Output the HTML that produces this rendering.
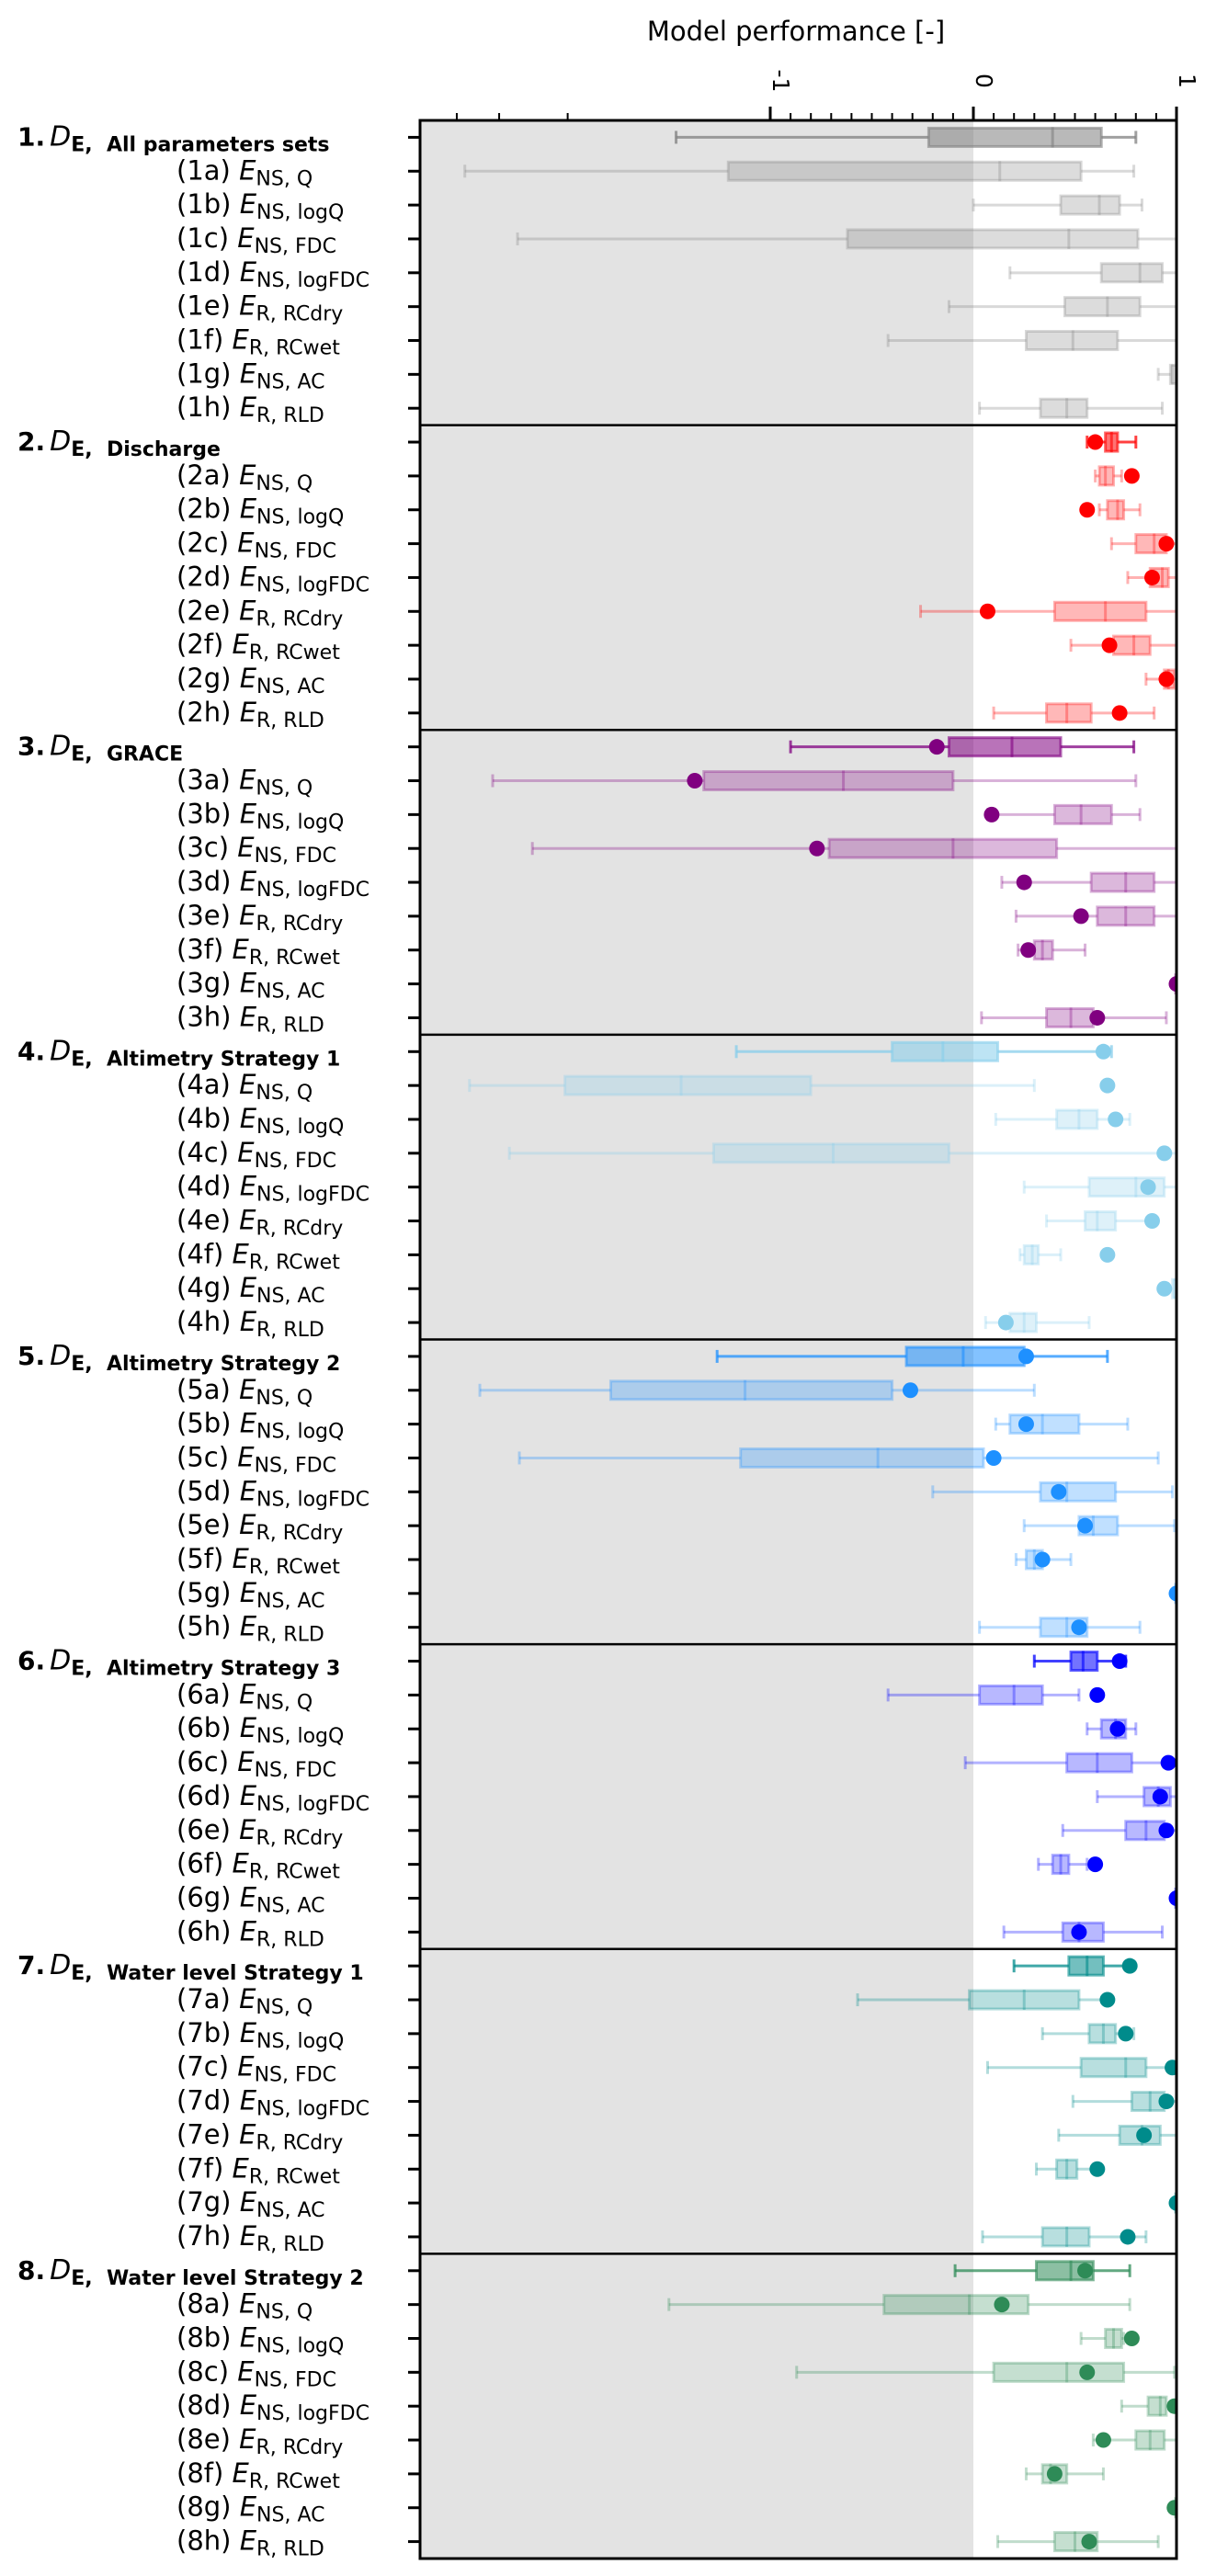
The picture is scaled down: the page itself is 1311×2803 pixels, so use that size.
<!DOCTYPE html>
<html><head><meta charset="utf-8">
<style>
html,body{margin:0;padding:0;background:#fff;}
svg{display:block;font-family:"DejaVu Sans","Liberation Sans",sans-serif;}
</style></head>
<body>
<svg id="chart" width="1311" height="2803" viewBox="0 0 1311 2803" xmlns="http://www.w3.org/2000/svg">
<defs><clipPath id="plotclip"><rect x="457" y="131" width="823" height="2653"/></clipPath></defs>
<text x="866" y="44" font-size="29" text-anchor="middle">Model performance [-]</text>
</svg>
<script>
const groupNames = ['All parameters sets','Discharge','GRACE','Altimetry Strategy 1','Altimetry Strategy 2','Altimetry Strategy 3','Water level Strategy 1','Water level Strategy 2'];
const subLetters = ['a','b','c','d','e','f','g','h'];
const subMetrics = [['E','NS, Q'],['E','NS, logQ'],['E','NS, FDC'],['E','NS, logFDC'],['E','R, RCdry'],['E','R, RCwet'],['E','NS, AC'],['E','R, RLD']];
const groupColors = ['#808080','#ff0000','#800080','#87ceeb','#1e90ff','#0000ff','#008b8b','#2e8b57'];
const majorTicks = [-1,0,1];
const majorTickLabels = ['-1','0','1'];
const farMinorTicks = [-2,-3,-4];
const lows = [
-1.26,-3.78,0.00,-2.67,0.18,-0.12,-0.42,0.91,0.03,
0.56,0.60,0.62,0.68,0.76,-0.26,0.48,0.85,0.10,
-0.90,-3.13,0.07,-2.44,0.14,0.21,0.22,0.99,0.04,
-1.07,-3.66,0.11,-2.81,0.25,0.36,0.23,0.95,0.06,
-1.12,-3.41,0.11,-2.64,-0.20,0.25,0.21,0.99,0.03,
0.30,-0.42,0.56,-0.04,0.61,0.44,0.32,0.99,0.15,
0.20,-0.57,0.34,0.07,0.49,0.42,0.31,0.99,0.045,
-0.09,-1.29,0.53,-0.87,0.73,0.59,0.26,0.99,0.12];
const q1s = [
-0.22,-1.09,0.43,-0.62,0.63,0.45,0.26,0.97,0.33,
0.65,0.62,0.66,0.80,0.87,0.40,0.69,0.94,0.36,
-0.12,-1.16,0.40,-0.71,0.58,0.61,0.30,0.995,0.36,
-0.40,-2.03,0.41,-1.13,0.57,0.55,0.25,0.98,0.18,
-0.33,-1.62,0.18,-1.06,0.33,0.52,0.26,0.995,0.33,
0.48,0.03,0.63,0.46,0.84,0.75,0.39,0.995,0.44,
0.47,-0.02,0.57,0.53,0.78,0.72,0.41,0.995,0.34,
0.31,-0.44,0.65,0.10,0.86,0.80,0.34,0.995,0.40];
const medians = [
0.39,0.13,0.62,0.47,0.82,0.66,0.49,0.98,0.46,
0.68,0.65,0.71,0.89,0.93,0.65,0.79,0.96,0.46,
0.19,-0.64,0.53,-0.10,0.75,0.75,0.34,0.998,0.48,
-0.15,-1.24,0.52,-0.69,0.80,0.61,0.29,0.99,0.25,
-0.05,-1.05,0.34,-0.47,0.46,0.59,0.30,0.998,0.46,
0.54,0.20,0.70,0.61,0.91,0.85,0.43,0.998,0.52,
0.56,0.25,0.64,0.75,0.87,0.83,0.46,0.998,0.46,
0.48,-0.02,0.69,0.46,0.92,0.87,0.38,0.998,0.50];
const q3s = [
0.63,0.53,0.72,0.81,0.93,0.82,0.71,1.00,0.56,
0.71,0.69,0.74,0.95,0.96,0.85,0.87,0.99,0.58,
0.43,-0.10,0.68,0.41,0.89,0.89,0.39,1.00,0.59,
0.12,-0.80,0.61,-0.12,0.94,0.70,0.32,1.00,0.31,
0.25,-0.40,0.52,0.05,0.70,0.71,0.34,1.00,0.56,
0.61,0.34,0.75,0.78,0.97,0.94,0.47,1.00,0.64,
0.64,0.52,0.70,0.85,0.94,0.92,0.51,1.00,0.57,
0.59,0.27,0.73,0.74,0.95,0.94,0.46,1.00,0.61];
const highs = [
0.80,0.79,0.83,1.00,1.00,1.00,1.00,1.00,0.93,
0.80,0.73,0.82,1.00,1.00,1.00,1.00,1.00,0.89,
0.79,0.80,0.82,1.00,1.00,1.00,0.55,1.00,0.95,
0.68,0.30,0.77,1.00,1.00,0.89,0.43,1.00,0.57,
0.66,0.30,0.76,0.91,0.98,0.99,0.48,1.00,0.82,
0.75,0.52,0.80,1.00,1.00,1.00,0.56,1.00,0.93,
0.77,0.67,0.79,1.00,1.00,1.00,0.61,1.00,0.85,
0.77,0.77,0.74,0.99,1.00,1.00,0.64,1.00,0.91];
const dots = [
null,null,null,null,null,null,null,null,null,
0.60,0.78,0.56,0.95,0.88,0.07,0.67,0.95,0.72,
-0.18,-1.19,0.09,-0.77,0.25,0.53,0.27,1.00,0.61,
0.64,0.66,0.70,0.94,0.86,0.88,0.66,0.94,0.16,
0.26,-0.31,0.26,0.10,0.42,0.55,0.34,1.00,0.52,
0.72,0.61,0.71,0.96,0.92,0.95,0.60,1.00,0.52,
0.77,0.66,0.75,0.98,0.95,0.84,0.61,1.00,0.76,
0.55,0.14,0.78,0.56,0.99,0.64,0.40,0.99,0.57];

const NS = 'http://www.w3.org/2000/svg';
const svg = document.getElementById('chart');
const L = 457, R = 1280, T = 131, B = 2784;
const ROWS = 72, RH = (B - T) / ROWS;
function xs(E){ return E >= -1 ? 1059 + 221*E : 838 - 123*Math.log(1 + 5*(-1 - E)); }
function ys(i){ return T + (i + 0.5)*RH; }
function mk(tag, attrs, parent){
  const e = document.createElementNS(NS, tag);
  for (const k in attrs) e.setAttribute(k, attrs[k]);
  (parent || svg).appendChild(e);
  return e;
}

const bg = mk('rect', {x:L, y:T, width:xs(0)-L, height:B-T, fill:'#e3e3e3'});



const plot = mk('g', {'clip-path':'url(#plotclip)'});



for (let i = 0; i < ROWS; i++){
  const g = Math.floor(i/9), s = i % 9, head = s === 0;
  const c = groupColors[g], y = ys(i);
  const lo = lows[i], hi = highs[i];
  const grp = mk('g', {}, plot);
  
  
  const lop = head ? 0.75 : 0.3, fop = head ? 0.55 : 0.28, sop = head ? 0.6 : 0.3;
  mk('line', {x1:xs(lo), x2:xs(q1s[i]), y1:y, y2:y, stroke:c, 'stroke-width':3, 'stroke-opacity':lop}, grp);
  mk('line', {x1:xs(q3s[i]), x2:xs(hi), y1:y, y2:y, stroke:c, 'stroke-width':3, 'stroke-opacity':lop}, grp);
  mk('line', {x1:xs(lo), x2:xs(lo), y1:y-7, y2:y+7, stroke:c, 'stroke-width':3, 'stroke-opacity':lop}, grp);
  mk('line', {x1:xs(hi), x2:xs(hi), y1:y-7, y2:y+7, stroke:c, 'stroke-width':3, 'stroke-opacity':lop}, grp);
  mk('rect', {x:xs(q1s[i]), y:y-10, width:Math.max(1, xs(q3s[i])-xs(q1s[i])), height:20, fill:c, 'fill-opacity':fop, stroke:c, 'stroke-width':3, 'stroke-opacity':sop}, grp);
  mk('line', {x1:xs(medians[i]), x2:xs(medians[i]), y1:y-11, y2:y+11, stroke:c, 'stroke-width':3, 'stroke-opacity':sop}, grp);
  if (dots[i] !== null){
    const d = mk('circle', {cx:xs(dots[i]), cy:y, r:8.5, fill:c}, grp);
    
    
  }
}

for (let g = 1; g < 8; g++){
  const yy = T + g*9*RH;
  const sep = mk('line', {x1:L, x2:R, y1:yy, y2:yy, stroke:'#000', 'stroke-width':2.5});
  
  
}
const fr = mk('rect', {x:L, y:T, width:R-L, height:B-T, fill:'none', stroke:'#000', 'stroke-width':3});



const axis = mk('g', {});


for (let k = -10; k <= 10; k++){
  if (k % 10 === 0) continue;
  const x = xs(k/10);
  mk('line', {x1:x, x2:x, y1:T, y2:T-8, stroke:'#000', 'stroke-width':2}, axis);
}
farMinorTicks.forEach(v => {
  const x = xs(v);
  mk('line', {x1:x, x2:x, y1:T, y2:T-8, stroke:'#000', 'stroke-width':2}, axis);
});
majorTicks.forEach((v, j) => {
  const x = xs(v);
  mk('line', {x1:x, x2:x, y1:T, y2:T-15, stroke:'#000', 'stroke-width':3}, axis);
  const t = mk('text', {x:0, y:0, 'font-size':25, 'text-anchor':'middle', transform:'translate(' + (x+3) + ',88) rotate(90)'}, axis);
  t.textContent = majorTickLabels[j];
  
  
});

for (let i = 0; i < ROWS; i++){
  const g = Math.floor(i/9), s = i % 9, y = ys(i);
  const tk = mk('line', {x1:L-13, x2:L, y1:y, y2:y, stroke:'#000', 'stroke-width':3});
  
  
  if (s === 0){
    const t = mk('text', {x:19, y:y+9, 'font-size':28});
    
    
    const a = mk('tspan', {'font-weight':'bold'}, t); a.textContent = (g+1) + '.';
    const b = mk('tspan', {'font-style':'italic', 'font-size':30, dx:5}, t); b.textContent = 'D';
    const c = mk('tspan', {'font-weight':'bold', 'font-size':22, dy:6}, t); c.textContent = 'E,\u00a0 ' + groupNames[g];
  } else {
    const t = mk('text', {x:192, y:y+9, 'font-size':29});
    
    
    const a = mk('tspan', {}, t); a.textContent = '(' + (g+1) + subLetters[s-1] + ') ';
    const b = mk('tspan', {'font-style':'italic'}, t); b.textContent = subMetrics[s-1][0];
    const c = mk('tspan', {'font-size':22, dy:6}, t); c.textContent = subMetrics[s-1][1];
  }
}
</script>
</body></html>
